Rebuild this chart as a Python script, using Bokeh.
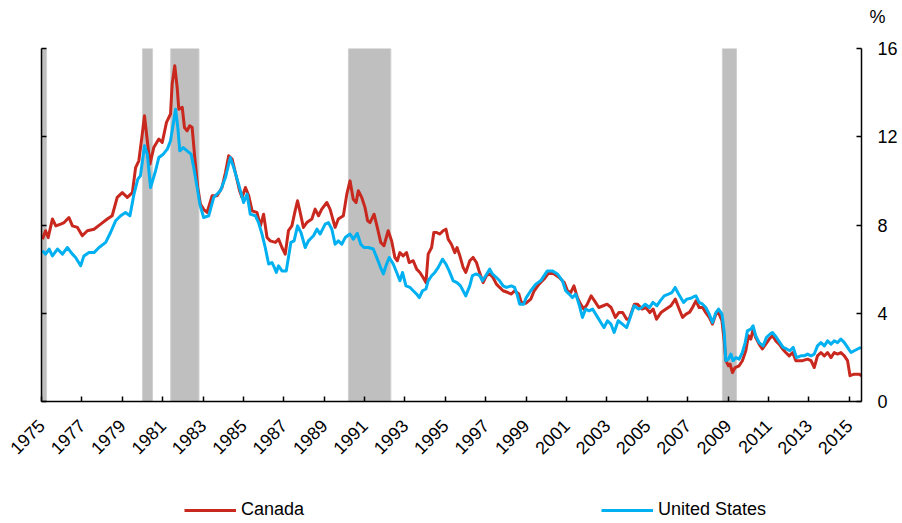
import math
from bokeh.plotting import figure
from bokeh.layouts import column
from bokeh.models import (LinearAxis, Range1d, FixedTicker, Legend, LegendItem,
                          Title, ColumnDataSource)
from bokeh.embed import file_html
from bokeh.resources import INLINE

# ---------------- data ----------------
canada_t = [1975.05, 1975.2, 1975.33, 1975.54, 1975.71, 1975.95, 1976.12, 1976.36, 1976.53, 1976.78,
            1977.02, 1977.27, 1977.6, 1977.93, 1978.26, 1978.5, 1978.75, 1979.0, 1979.25, 1979.5,
            1979.66, 1979.82, 1979.99, 1980.1, 1980.24, 1980.37, 1980.56, 1980.81, 1980.98, 1981.19,
            1981.39, 1981.47, 1981.6, 1981.72, 1981.8, 1981.97, 1982.08, 1982.21, 1982.34, 1982.46,
            1982.59, 1982.74, 1982.87, 1983.04, 1983.2, 1983.45, 1983.7, 1983.94, 1984.11, 1984.27,
            1984.44, 1984.6, 1984.81, 1984.93, 1985.1, 1985.26, 1985.43, 1985.67, 1985.84, 1986.0,
            1986.17, 1986.33, 1986.58, 1986.74, 1986.91, 1987.07, 1987.23, 1987.4, 1987.56, 1987.68,
            1987.81, 1987.97, 1988.14, 1988.39, 1988.55, 1988.72, 1988.88, 1989.13, 1989.29, 1989.54,
            1989.7, 1989.95, 1990.12, 1990.28, 1990.44, 1990.58, 1990.69, 1990.86, 1991.02, 1991.15,
            1991.27, 1991.47, 1991.63, 1991.8, 1991.96, 1992.17, 1992.34, 1992.5, 1992.62, 1992.75,
            1992.91, 1993.08, 1993.21, 1993.41, 1993.58, 1993.74, 1993.9, 1994.04, 1994.15, 1994.32,
            1994.43, 1994.57, 1994.73, 1994.89, 1995.03, 1995.14, 1995.3, 1995.47, 1995.58, 1995.72,
            1995.88, 1996.01, 1996.21, 1996.37, 1996.54, 1996.67, 1996.87, 1997.03, 1997.2, 1997.36,
            1997.53, 1997.69, 1997.86, 1998.1, 1998.27, 1998.43, 1998.64, 1998.76, 1998.98, 1999.23,
            1999.4, 1999.64, 1999.89, 2000.14, 2000.39, 2000.64, 2000.89, 2001.05, 2001.21, 2001.37,
            2001.54, 2001.7, 2001.86, 2002.03, 2002.22, 2002.39, 2002.6, 2002.82, 2003.01, 2003.21,
            2003.42, 2003.59, 2003.78, 2003.98, 2004.1, 2004.36, 2004.52, 2004.74, 2004.93, 2005.13,
            2005.29, 2005.46, 2005.68, 2005.93, 2006.17, 2006.39, 2006.55, 2006.75, 2006.92, 2007.1,
            2007.24, 2007.41, 2007.57, 2007.74, 2007.9, 2008.07, 2008.23, 2008.4, 2008.53, 2008.7,
            2008.81, 2008.89, 2009.02, 2009.1, 2009.22, 2009.35, 2009.55, 2009.71, 2009.88, 2010.01,
            2010.13, 2010.24, 2010.37, 2010.54, 2010.7, 2010.87, 2011.04, 2011.2, 2011.37, 2011.53,
            2011.7, 2011.86, 2012.03, 2012.2, 2012.36, 2012.53, 2012.69, 2012.94, 2013.11, 2013.27,
            2013.43, 2013.6, 2013.77, 2013.93, 2014.1, 2014.26, 2014.43, 2014.59, 2014.76, 2014.92,
            2015.04, 2015.25, 2015.5, 2015.6]
canada_v = [7.36, 7.74, 7.43, 8.27, 7.96, 8.04, 8.11, 8.34, 7.96, 7.89,
            7.51, 7.74, 7.81, 8.04, 8.27, 8.42, 9.25, 9.47, 9.25, 9.47,
            10.6, 10.91, 12.12, 12.95, 11.82, 10.76, 11.51, 11.9, 11.74, 12.65,
            13.03, 14.39, 15.22, 14.23, 13.25, 13.33, 12.42, 12.27, 12.5, 12.42,
            11.06, 9.7, 8.95, 8.7, 8.57, 9.33, 9.33, 9.7, 10.38, 11.14,
            10.99, 10.38, 9.55, 9.25, 9.7, 9.33, 8.64, 8.57, 7.96, 8.49,
            7.43, 7.28, 7.21, 7.36, 6.98, 6.68, 7.74, 7.96, 8.64, 9.1,
            8.57, 7.89, 8.11, 8.27, 8.72, 8.42, 8.72, 9.02, 8.72, 7.89,
            8.27, 8.42, 9.4, 10.0, 9.17, 9.02, 9.55, 9.25, 8.8, 8.19,
            8.11, 8.49, 7.89, 7.21, 7.06, 7.74, 7.28, 6.53, 6.38, 6.75,
            6.6, 6.75, 6.3, 6.38, 6.0, 5.85, 5.62, 5.39, 6.68, 6.98,
            7.66, 7.66, 7.59, 7.74, 7.81, 7.36, 7.13, 6.75, 6.98, 6.6,
            6.08, 5.85, 6.38, 6.53, 6.3, 5.92, 5.39, 5.7, 5.78, 5.62,
            5.32, 5.17, 5.02, 4.94, 4.87, 5.02, 4.87, 4.49, 4.45, 4.64,
            5.02, 5.32, 5.55, 5.85, 5.78, 5.62, 5.39, 5.02, 4.94, 5.24,
            4.71, 4.41, 4.19, 4.41, 4.79, 4.56, 4.26, 4.34, 4.41, 4.26,
            3.81, 4.03, 4.03, 3.73, 3.73, 4.41, 4.41, 4.19, 4.26, 4.03,
            4.19, 3.73, 4.03, 4.19, 4.34, 4.64, 4.26, 3.81, 3.96, 4.05,
            4.26, 4.56, 4.26, 4.26, 4.03, 3.81, 3.51, 3.96, 4.03, 3.66,
            2.75, 1.85, 1.62, 1.7, 1.31, 1.54, 1.62, 1.85, 2.3, 2.98,
            2.83, 3.28, 2.9, 2.6, 2.38, 2.6, 2.83, 2.98, 2.75, 2.6,
            2.38, 2.22, 2.07, 2.22, 1.85, 1.85, 1.85, 1.92, 1.85, 1.54,
            2.07, 2.22, 2.07, 2.22, 1.99, 2.22, 2.15, 2.22, 2.07, 1.85,
            1.17, 1.24, 1.24, 1.17]

us_t = [1975.05, 1975.2, 1975.38, 1975.54, 1975.79, 1976.04, 1976.28, 1976.53, 1976.69, 1976.94,
        1977.1, 1977.35, 1977.6, 1977.85, 1978.18, 1978.42, 1978.67, 1978.92, 1979.16, 1979.38,
        1979.58, 1979.77, 1979.9, 1980.1, 1980.24, 1980.4, 1980.65, 1980.81, 1981.03, 1981.23,
        1981.39, 1981.52, 1981.64, 1981.75, 1981.85, 1982.02, 1982.21, 1982.41, 1982.54, 1982.71,
        1982.84, 1983.03, 1983.28, 1983.53, 1983.86, 1984.11, 1984.35, 1984.52, 1984.76, 1985.01,
        1985.18, 1985.34, 1985.59, 1985.75, 1985.92, 1986.08, 1986.25, 1986.41, 1986.53, 1986.63,
        1986.74, 1986.91, 1987.12, 1987.23, 1987.35, 1987.51, 1987.68, 1987.85, 1988.06, 1988.22,
        1988.47, 1988.64, 1988.8, 1989.05, 1989.21, 1989.38, 1989.54, 1989.7, 1989.87, 1990.04,
        1990.28, 1990.44, 1990.64, 1990.81, 1990.97, 1991.19, 1991.43, 1991.6, 1991.76, 1991.93,
        1992.06, 1992.22, 1992.42, 1992.62, 1992.75, 1992.88, 1993.05, 1993.25, 1993.41, 1993.58,
        1993.71, 1993.87, 1994.04, 1994.15, 1994.32, 1994.48, 1994.65, 1994.86, 1995.03, 1995.19,
        1995.39, 1995.58, 1995.75, 1996.01, 1996.21, 1996.34, 1996.54, 1996.7, 1996.84, 1997.0,
        1997.2, 1997.33, 1997.53, 1997.69, 1997.86, 1998.02, 1998.27, 1998.43, 1998.55, 1998.68,
        1998.88, 1999.0, 1999.23, 1999.48, 1999.72, 2000.05, 2000.3, 2000.55, 2000.8, 2000.96,
        2001.13, 2001.29, 2001.46, 2001.62, 2001.79, 2001.95, 2002.12, 2002.29, 2002.5, 2002.7,
        2002.86, 2003.03, 2003.2, 2003.36, 2003.56, 2003.77, 2003.98, 2004.1, 2004.35, 2004.57,
        2004.73, 2004.9, 2005.11, 2005.28, 2005.48, 2005.64, 2005.84, 2006.05, 2006.22, 2006.38,
        2006.55, 2006.8, 2006.96, 2007.16, 2007.3, 2007.41, 2007.57, 2007.74, 2007.9, 2008.07,
        2008.23, 2008.4, 2008.53, 2008.7, 2008.81, 2008.89, 2009.02, 2009.14, 2009.25, 2009.39,
        2009.55, 2009.71, 2009.85, 2009.96, 2010.13, 2010.24, 2010.37, 2010.54, 2010.74, 2010.9,
        2011.07, 2011.2, 2011.4, 2011.57, 2011.73, 2011.9, 2012.06, 2012.23, 2012.39, 2012.61,
        2012.77, 2012.94, 2013.11, 2013.27, 2013.43, 2013.6, 2013.77, 2013.93, 2014.1, 2014.26,
        2014.43, 2014.59, 2014.76, 2014.92, 2015.09, 2015.25, 2015.42, 2015.58]
us_v = [6.83, 6.68, 6.91, 6.6, 6.91, 6.68, 6.98, 6.68, 6.53, 6.15,
        6.6, 6.75, 6.75, 6.98, 7.21, 7.66, 8.19, 8.42, 8.57, 8.42,
        9.4, 10.08, 10.23, 11.59, 11.21, 9.7, 10.46, 11.06, 11.21, 11.44,
        11.82, 12.57, 13.25, 12.42, 11.36, 11.51, 11.36, 11.21, 10.6, 9.7,
        8.95, 8.34, 8.42, 9.25, 9.55, 10.15, 11.06, 10.6, 9.85, 9.02,
        9.4, 8.49, 8.42, 8.11, 7.59, 6.98, 6.23, 6.3, 6.08, 5.85,
        6.15, 5.92, 5.92, 6.53, 7.21, 7.28, 7.96, 7.66, 6.98, 7.28,
        7.51, 7.81, 7.59, 8.04, 8.11, 7.81, 7.13, 7.28, 7.13, 7.43,
        7.59, 7.36, 7.62, 7.13, 6.98, 6.98, 6.91, 6.53, 6.15, 5.78,
        6.15, 6.53, 6.23, 5.78, 5.47, 5.85, 5.24, 5.17, 5.02, 4.87,
        4.71, 5.02, 5.1, 5.47, 5.7, 5.85, 6.08, 6.45, 6.23, 5.92,
        5.47, 5.39, 5.24, 4.79, 5.24, 5.7, 5.78, 5.7, 5.47, 5.7,
        6.0, 5.78, 5.62, 5.47, 5.24, 5.17, 5.24, 5.17, 4.87, 4.41,
        4.41, 4.7, 5.02, 5.32, 5.47, 5.92, 5.92, 5.78, 5.47, 5.02,
        4.87, 4.71, 4.87, 4.41, 3.81, 4.19, 4.11, 4.19, 3.88, 3.58,
        3.35, 3.66, 3.51, 3.13, 3.66, 3.51, 3.35, 3.66, 4.34, 4.19,
        4.26, 4.41, 4.26, 4.49, 4.34, 4.56, 4.79, 4.87, 4.94, 5.17,
        4.87, 4.49, 4.64, 4.68, 4.75, 4.79, 4.49, 4.41, 4.26, 3.96,
        3.58, 4.03, 4.19, 3.96, 3.13, 1.85, 1.92, 2.15, 1.85, 1.99,
        1.92, 2.22, 2.67, 3.2, 3.28, 3.43, 2.98, 2.67, 2.52, 2.9,
        3.05, 3.13, 2.9, 2.67, 2.45, 2.38, 2.3, 2.45, 1.99, 2.07,
        2.07, 2.15, 2.07, 2.15, 2.52, 2.67, 2.52, 2.75, 2.6, 2.75,
        2.67, 2.83, 2.67, 2.45, 2.22, 2.3, 2.38, 2.45]

recession_start = [1974.8, 1980.0, 1981.4, 1990.2, 2008.72]
recession_end = [1975.25, 1980.5, 1982.8, 1992.3, 2009.42]

year_ticks = list(range(1975, 2016, 2))
value_ticks = [0, 4, 8, 12, 16]
series_names = ["Canada", "United States"]
unit_label = "%"

# ---------------- styles ----------------
FONT = "Liberation Sans"
RED = "#C8281E"
BLUE = "#00B0F0"
W = 900

# ---------------- top strip with the unit label ----------------
top = figure(width=W, height=36, x_range=Range1d(0, 1), y_range=Range1d(0, 1),
             output_backend="svg", toolbar_location=None, min_border=0,
             x_axis_location=None, y_axis_location=None)
top.grid.visible = False
top.outline_line_color = None
top.title = Title(text=unit_label, align="right", offset=-24, standoff=9,
                  text_font=FONT, text_font_size="18px", text_font_style="normal",
                  text_color="black")

# ---------------- main chart ----------------
p = figure(width=W, height=434, x_range=Range1d(1975, 2015.61), y_range=Range1d(0, 16),
           output_backend="svg", toolbar_location=None, y_axis_location="right",
           min_border_left=41, min_border_right=38, min_border_top=12, min_border_bottom=69)
p.grid.visible = False
p.outline_line_color = None

rec_src = ColumnDataSource(dict(left=recession_start, right=recession_end,
                                bottom=[0] * len(recession_start),
                                top=[16] * len(recession_start)))
p.quad(left="left", right="right", bottom="bottom", top="top", source=rec_src,
       fill_color="#BFBFBF", line_color="#D0D0D0", line_width=1)

p.line(canada_t, canada_v, line_color=RED, line_width=3, line_join="round")
p.line(us_t, us_v, line_color=BLUE, line_width=3, line_join="round")

left_axis = LinearAxis(ticker=FixedTicker(ticks=value_ticks),
                       major_label_overrides={v: "" for v in value_ticks})
p.add_layout(left_axis, "left")

for ax in p.axis:
    ax.axis_line_color = "black"
    ax.axis_line_width = 1.5
    ax.major_tick_line_color = "black"
    ax.major_tick_line_width = 1.5
    ax.major_tick_in = 5
    ax.major_tick_out = 0
    ax.minor_tick_line_color = None
    ax.major_label_text_font = FONT
    ax.major_label_text_font_size = "18px"
    ax.major_label_text_color = "black"

right_axis = p.right[0]
right_axis.ticker = FixedTicker(ticks=value_ticks)
right_axis.major_label_standoff = 16

p.xaxis.ticker = FixedTicker(ticks=year_ticks)
p.xaxis.major_label_orientation = math.pi / 4
p.xaxis.major_label_standoff = 21

# ---------------- legend strip ----------------
lg = figure(width=W, height=52, x_range=Range1d(0, 1), y_range=Range1d(0, 1),
            output_backend="svg", toolbar_location=None, min_border=0,
            x_axis_location=None, y_axis_location=None)
lg.grid.visible = False
lg.outline_line_color = None
# same series drawn outside this strip's visible range; only their legend swatches show
lg_can = lg.line(canada_t, canada_v, line_color=RED, line_width=3)
lg_us = lg.line(us_t, us_v, line_color=BLUE, line_width=3)

legend = Legend(items=[LegendItem(label=series_names[0], renderers=[lg_can]),
                       LegendItem(label=series_names[1], renderers=[lg_us])],
                orientation="horizontal", location=(143, 2), spacing=297,
                padding=0, margin=0, glyph_width=52, glyph_height=18, label_height=18,
                label_standoff=5, label_text_font=FONT, label_text_font_size="18px",
                label_text_color="black", border_line_color=None,
                background_fill_alpha=0)
lg.add_layout(legend, "center")

layout = column(top, p, lg, spacing=0)
open("out.html", "w").write(file_html(layout, INLINE))
